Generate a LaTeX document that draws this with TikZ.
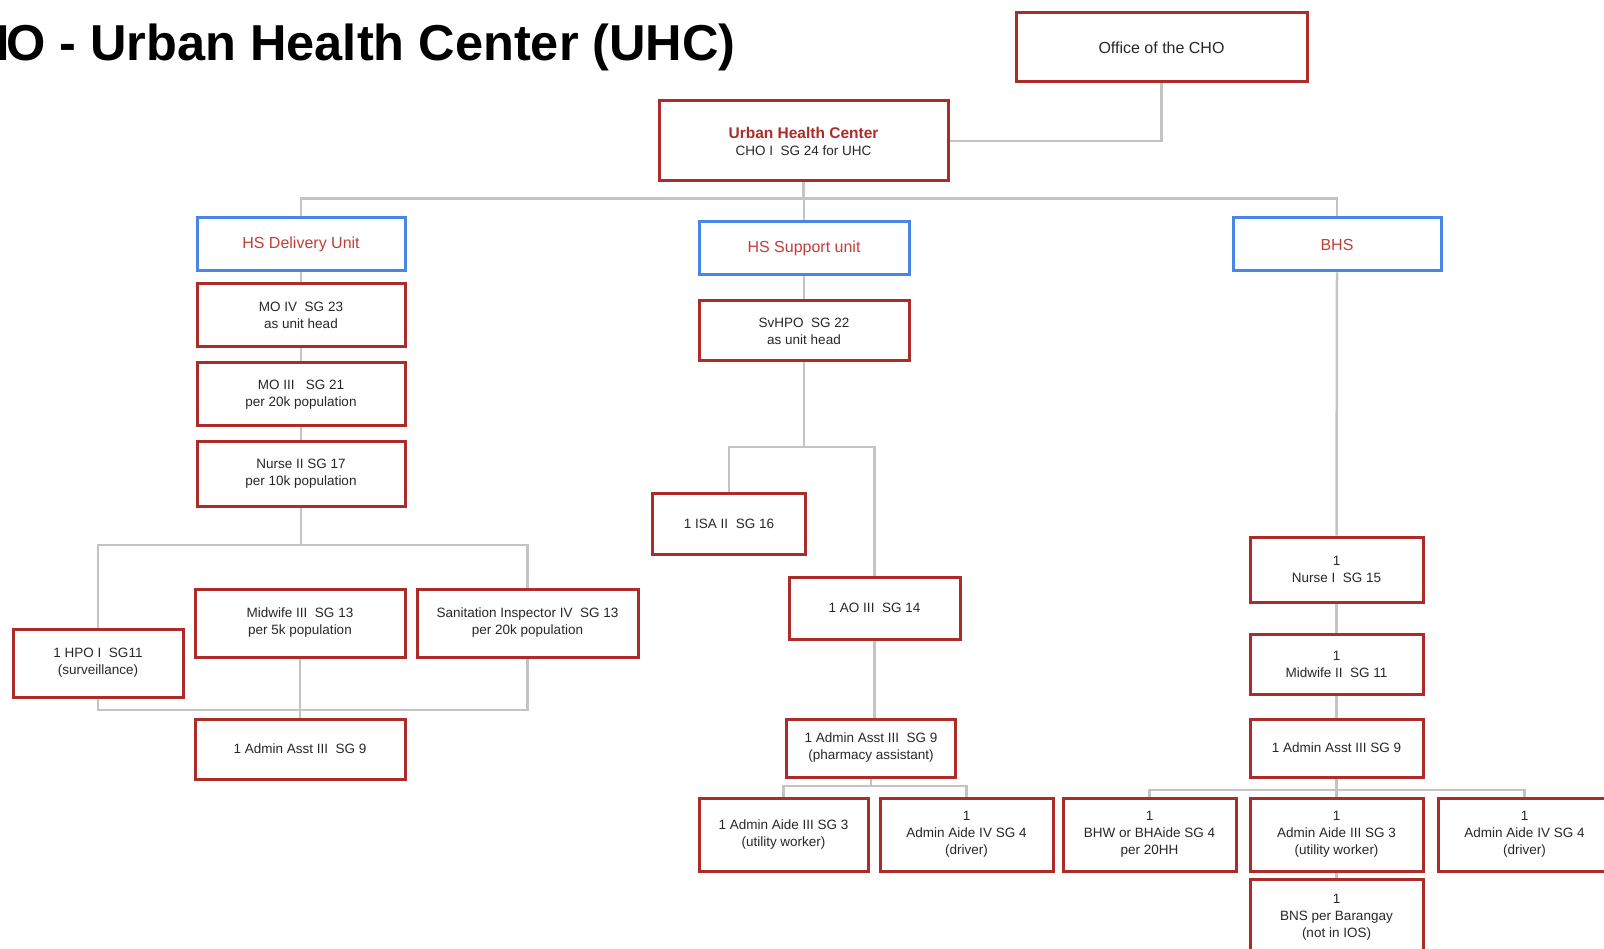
\documentclass[tikz,border=0pt]{standalone}
\usepackage{fontspec}
\setmainfont{Liberation Sans}
\definecolor{boxred}{RGB}{172,44,42}
\definecolor{unitblue}{RGB}{74,134,232}
\definecolor{unittext}{RGB}{196,62,56}
\definecolor{linkgray}{RGB}{196,196,196}
\definecolor{ink}{RGB}{40,40,40}
\tikzset{
  rbox/.style={draw=boxred, line width=3pt, fill=white, align=center,
    inner sep=0pt, text=ink, font=\fontsize{13.5}{17}\selectfont},
  ubox/.style={draw=unitblue, line width=3pt, fill=white, align=center,
    inner sep=0pt, text=unittext, font=\fontsize{16}{19}\selectfont,
    minimum height=53pt},
  link/.style={draw=linkgray, line width=2.5pt}
}
\begin{document}
\begin{tikzpicture}[x=1pt,y=-1pt]
\useasboundingbox (0,0) rectangle (1604,949);
\clip (0,0) rectangle (1604,949);

% heading (runs past the left edge of the sheet)
\node[anchor=base east, inner sep=0pt, font=\fontsize{50.5}{56}\selectfont\bfseries]
  (title) at (736,61) {CH\kern-4pt O - Urban Health Center (UHC)};

% heights of the horizontal bus lines
\coordinate (busTop) at (0,198.5);
\coordinate (busDel) at (0,545);
\coordinate (busDelLow) at (0,710);
\coordinate (busSup) at (0,447);
\coordinate (busSupLow) at (0,786);
\coordinate (busBhs) at (0,790);

% ---- boxes ----
\node[rbox, minimum width=291pt, minimum height=69pt, font=\fontsize{16}{19}\selectfont]
  (office) at (1161.5,47.5) {Office of the CHO};
\node[rbox, minimum width=289pt, minimum height=80pt]
  (uhc) at (803.5,141) {{\color{boxred}\fontsize{15.5}{17}\selectfont\bfseries Urban Health Center}\\CHO I\ \ SG 24 for UHC};

\node[ubox, minimum width=208pt] (hsd) at (301,244.5) {HS Delivery Unit};
\node[ubox, minimum width=210pt] (hss) at (804,248.5) {HS Support unit};
\node[ubox, minimum width=208pt] (bhs) at (1337,244.5) {BHS};

% delivery unit
\node[rbox, minimum width=208pt, minimum height=63pt] (moiv) at (301,315.5) {MO IV\ \ SG 23\\as unit head};
\node[rbox, minimum width=208pt, minimum height=63pt] (moiii) at (301,394.5) {MO III\ \ \ SG 21\\per 20k population};
\node[rbox, minimum width=208pt, minimum height=64pt] (nurseii) at (301,474) {Nurse II SG 17\\per 10k population};
\node[rbox, minimum width=170pt, minimum height=68pt] (hpo) at (98,663) {1 HPO I\ \ SG11\\(surveillance)};
\node[rbox, minimum width=210pt, minimum height=68pt] (midwiii) at (300,623) {Midwife III\ \ SG 13\\per 5k population};
\node[rbox, minimum width=221pt, minimum height=68pt] (sanit) at (527.5,623) {Sanitation Inspector IV\ \ SG 13\\per 20k population};
\node[rbox, minimum width=210pt, minimum height=60pt] (asstdel) at (300,749) {1 Admin Asst III\ \ SG 9};

% support unit
\node[rbox, minimum width=210pt, minimum height=60pt] (svhpo) at (804,331) {SvHPO\ \ SG 22\\as unit head};
\node[rbox, minimum width=153pt, minimum height=61pt] (isa) at (729,523.5) {1 ISA II\ \ SG 16};
\node[rbox, minimum width=171pt, minimum height=62pt] (ao) at (874.5,608) {1 AO III\ \ SG 14};
\node[rbox, minimum width=169pt, minimum height=58pt] (pharm) at (871,748) {1 Admin Asst III\ \ SG 9\\(pharmacy assistant)};
\node[rbox, minimum width=169pt, minimum height=73pt] (aidesup) at (783.5,834.5) {1 Admin Aide III SG 3\\(utility worker)};
\node[rbox, minimum width=173pt, minimum height=73pt] (drvsup) at (966.5,834.5) {1\\Admin Aide IV SG 4\\(driver)};

% barangay health station
\node[rbox, minimum width=173pt, minimum height=65pt] (nursei) at (1336.5,569.5) {1\\Nurse I\ \ SG 15};
\node[rbox, minimum width=173pt, minimum height=60pt] (midwii) at (1336.5,664) {1\\Midwife II\ \ SG 11};
\node[rbox, minimum width=173pt, minimum height=58pt] (asstbhs) at (1336.5,748) {1 Admin Asst III SG 9};
\node[rbox, minimum width=173pt, minimum height=73pt] (bhw) at (1149.5,834.5) {1\\BHW or BHAide SG 4\\per 20HH};
\node[rbox, minimum width=173pt, minimum height=73pt] (aidebhs) at (1336.5,834.5) {1\\Admin Aide III SG 3\\(utility worker)};
\node[rbox, minimum width=173pt, minimum height=73pt] (drvbhs) at (1524.5,834.5) {1\\Admin Aide IV SG 4\\(driver)};
\node[rbox, minimum width=173pt, minimum height=76pt] (bns) at (1336.5,917) {1\\BNS per Barangay\\(not in IOS)};

% ---- connectors ----
\path[link] (office.south) |- (uhc.east);
\path[link] (uhc.south) -- (uhc.south |- busTop);
\path[link] (hsd.north) -- (hsd.north |- busTop) -- (bhs.north |- busTop) -- (bhs.north);
\path[link] (hss.north) -- (hss.north |- busTop);

\path[link] (hsd.south) -- (moiv.north);
\path[link] (moiv.south) -- (moiii.north);
\path[link] (moiii.south) -- (nurseii.north);
\path[link] (nurseii.south) -- (nurseii.south |- busDel);
\path[link] (hpo.north) -- (hpo.north |- busDel) -- (sanit.north |- busDel) -- (sanit.north);
\path[link] (hpo.south) -- (hpo.south |- busDelLow) -- (sanit.south |- busDelLow) -- (sanit.south);
\path[link] (midwiii.south) -- (asstdel.north);

\path[link] (hss.south) -- (svhpo.north);
\path[link] (svhpo.south) -- (svhpo.south |- busSup);
\path[link] (isa.north) -- (isa.north |- busSup) -- (ao.north |- busSup) -- (ao.north);
\path[link] (ao.south) -- (ao.south |- pharm.north);
\path[link] (pharm.south) -- (pharm.south |- busSupLow);
\path[link] (aidesup.north) -- (aidesup.north |- busSupLow) -- (drvsup.north |- busSupLow) -- (drvsup.north);

\path[link] (bhs.south) -- (nursei.north);
\path[link] (nursei.south) -- (midwii.north);
\path[link] (midwii.south) -- (asstbhs.north);
\path[link] (asstbhs.south) -- (asstbhs.south |- busBhs);
\path[link] (bhw.north) -- (bhw.north |- busBhs) -- (drvbhs.north |- busBhs) -- (drvbhs.north);
\path[link] (aidebhs.north) -- (aidebhs.north |- busBhs);
\path[link] (aidebhs.south) -- (bns.north);
\end{tikzpicture}
\end{document}
